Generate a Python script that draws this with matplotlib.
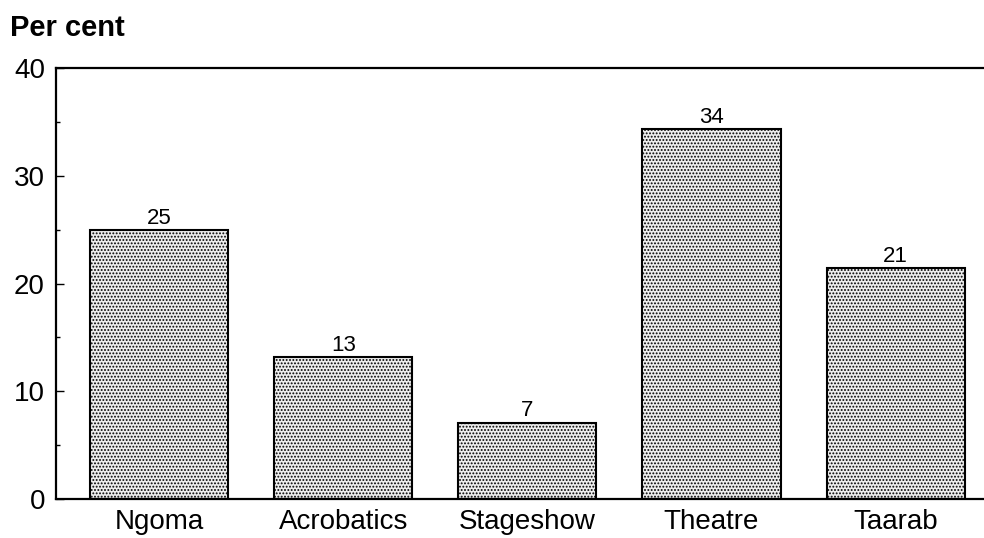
import matplotlib.pyplot as plt
from matplotlib.ticker import MultipleLocator

plt.rcParams["font.family"] = ["Liberation Sans", "DejaVu Sans"]
plt.rcParams["hatch.linewidth"] = 0.9
plt.rcParams["hatch.color"] = "#6a6a6a"

categories = ["Ngoma", "Acrobatics", "Stageshow", "Theatre", "Taarab"]
shares = [25.0, 13.2, 7.1, 34.3, 21.4]


def main() -> None:
    fig = plt.figure(figsize=(9.84, 5.38), dpi=100)
    ax = fig.add_axes([0.057, 0.0725, 0.943, 0.801])

    x = range(len(categories))
    bars = ax.bar(
        x,
        shares,
        width=0.75,
        facecolor="#eeeeee",
        edgecolor="black",
        linewidth=1.5,
        hatch=".....",
        zorder=2,
    )

    for bar, value in zip(bars, shares):
        ax.text(
            bar.get_x() + bar.get_width() / 2,
            value + 0.1,
            f"{value:.0f}",
            ha="center",
            va="bottom",
            fontsize=16,
        )

    ax.set_xlim(-0.56, 4.48)
    ax.set_ylim(0, 40)
    ax.yaxis.set_major_locator(MultipleLocator(10))
    ax.yaxis.set_minor_locator(MultipleLocator(5))
    ax.set_xticks(list(x))
    ax.set_xticklabels(categories)

    ax.tick_params(axis="y", which="major", direction="in", length=6, width=1, labelsize=20, pad=8)
    ax.tick_params(axis="y", which="minor", direction="in", length=3, width=1)
    ax.tick_params(axis="x", length=0, labelsize=20, pad=7)

    ax.spines["right"].set_visible(False)
    for side in ("left", "bottom", "top"):
        ax.spines[side].set_linewidth(1.6)

    fig.text(0.010, 0.948, "Per cent", fontsize=21, fontweight="bold", ha="left", va="center")

    fig.savefig("out.png", dpi=100)
    plt.close(fig)


if __name__ == "__main__":
    main()
